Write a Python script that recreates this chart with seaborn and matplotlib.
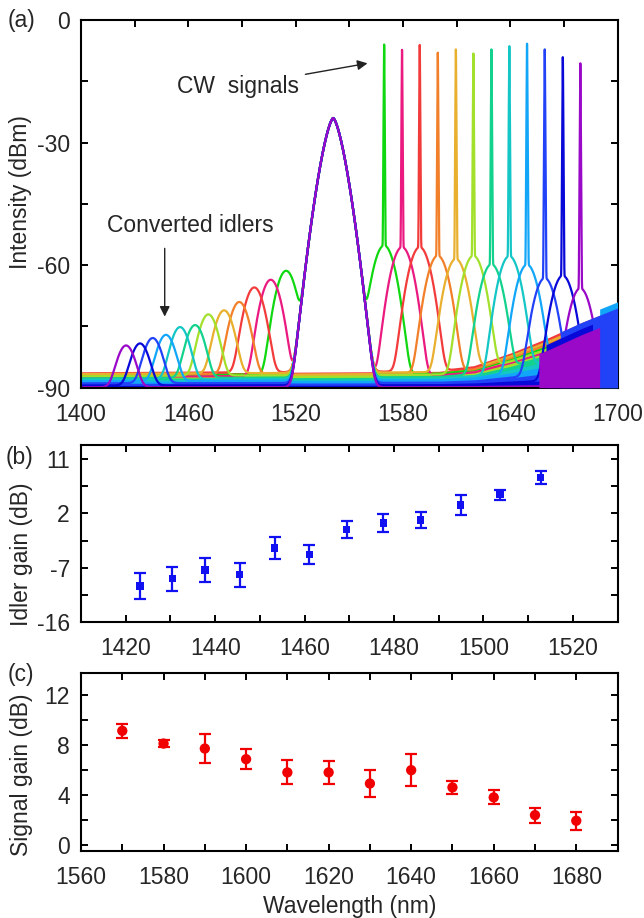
import numpy as np
import pandas as pd
import matplotlib
matplotlib.use("Agg")
import matplotlib.pyplot as plt
import seaborn as sns

# ---- (a) spectra, one trace per CW signal ----
signal_nm = [1569.5, 1579.5, 1589.4, 1599.5, 1609.6, 1619.4,
             1629.5, 1639.5, 1649.4, 1659.3, 1669.4, 1679.2]
signal_peak_dbm = [-6.0, -7.3, -6.1, -8.0, -7.2, -8.2,
                   -7.2, -6.4, -5.8, -7.2, -9.1, -10.6]
pedestal_dbm = [-55.2, -55.6, -55.6, -57.7, -58.5, -57.7,
                -59.8, -57.8, -59.9, -63.2, -62.6, -65.7]
idler_nm = [1514.7, 1506.1, 1496.9, 1488.5, 1480.0, 1471.2,
            1463.8, 1455.4, 1447.5, 1440.1, 1433.0, 1425.2]
idler_peak_dbm = [-61.4, -63.6, -65.5, -69.1, -71.2, -72.2,
                  -74.9, -75.4, -77.4, -78.2, -79.6, -80.1]
trace_colors = ["#10d810", "#ea1a80", "#f23c3c", "#f2802a", "#e8b02e", "#a2e02c",
                "#12d28e", "#14c6c6", "#12a6f8", "#2242f8", "#0808d8", "#9a08c8"]
pump_nm = 1541.0
pump_peak_dbm = -24.0

# noise floor of the OSA: top of the noisy band, and where each trace sits in it
floor_nm = [1400, 1600, 1620, 1640, 1660, 1680, 1700]
floor_top_dbm = [-86.5, -86.0, -85.0, -82.0, -78.5, -74.5, -71.0]
floor_depth = [0.15, 0.25, 0.0, 0.1, 0.05, 0.2, 0.35, 0.45, 0.55, 0.7, 0.85, 0.97]
# dense noise blocks of the long-wavelength traces
block_start_nm = [0, 0, 0, 0, 0, 0, 0, 0, 1690, 1668, 1660, 1656]
block_end_nm = [0, 0, 0, 0, 0, 0, 0, 0, 1700, 1700, 1686, 1690]
block_offset_db = [0, 0, 0, 0, 0, 0, 0, 0, 2.0, 0.5, -1.0, -2.5]

# ---- (b) idler gain ----
idler_gain_nm = [1423.2, 1430.4, 1437.7, 1445.5, 1453.3, 1461.1,
                 1469.4, 1477.6, 1486.0, 1494.9, 1503.7, 1512.8]
idler_gain_db = [-10.0, -8.8, -7.4, -8.15, -3.7, -4.8, -0.7, 0.4, 0.9, 3.4, 5.1, 8.0]
idler_gain_err = [2.2, 2.0, 2.0, 2.0, 1.8, 1.6, 1.4, 1.5, 1.3, 1.65, 0.8, 1.05]

# ---- (c) signal gain ----
signal_gain_nm = [1570, 1580, 1590, 1600, 1610, 1620, 1630, 1640, 1650, 1660, 1670, 1680]
signal_gain_db = [9.12, 8.1, 7.7, 6.85, 5.79, 5.79, 4.9, 5.97, 4.59, 3.79, 2.37, 1.92]
signal_gain_err = [0.56, 0.28, 1.15, 0.78, 0.96, 0.95, 1.06, 1.3, 0.55, 0.56, 0.6, 0.72]

sns.set_theme(style="ticks")
plt.rcParams['font.family'] = ['Liberation Sans', 'DejaVu Sans']
plt.rcParams['axes.unicode_minus'] = False
FS = 16.5

wl = np.linspace(1400, 1700, 15001)
band_top = np.interp(wl, floor_nm, floor_top_dbm)


def db2lin(x):
    return 10 ** (np.asarray(x) / 10)


rows = []
floors = []
for i in range(len(signal_nm)):
    floor = band_top - floor_depth[i] * (band_top + 90)
    floors.append(floor)
    pump = pump_peak_dbm - 0.6 * np.abs(wl - pump_nm) ** 1.5
    ped = pedestal_dbm[i] - 4.343 * (wl - signal_nm[i]) ** 2 / (2 * 3.7 ** 2)
    cw = signal_peak_dbm[i] - 20 * np.log10(np.cosh(np.clip((wl - signal_nm[i]) / 0.12, -300, 300)))
    idl = idler_peak_dbm[i] - 4.343 * (wl - idler_nm[i]) ** 2 / (2 * 3.6 ** 2)
    total = db2lin(pump) + db2lin(ped) + db2lin(cw) + db2lin(idl) + db2lin(floor)
    rows.append(pd.DataFrame({"wl": wl, "db": 10 * np.log10(total), "trace": i}))
spec = pd.concat(rows, ignore_index=True)

fig = plt.figure(figsize=(6.44, 9.18), dpi=100)
ax_a = fig.add_axes([0.1258, 0.5777, 0.8331, 0.4005])
ax_b = fig.add_axes([0.1258, 0.3224, 0.8331, 0.1932])
ax_c = fig.add_axes([0.1258, 0.0730, 0.8331, 0.1939])

# (a)
for i in range(len(signal_nm)):
    ax_a.fill_between(wl, -90, floors[i], color=trace_colors[i], lw=0, zorder=1)
sns.lineplot(data=spec, x="wl", y="db", hue="trace", palette=trace_colors,
             estimator=None, legend=False, lw=1.6, ax=ax_a, zorder=2)
for i in range(len(signal_nm)):
    if block_end_nm[i] > block_start_nm[i]:
        m = (wl >= block_start_nm[i]) & (wl <= block_end_nm[i])
        ax_a.fill_between(wl[m], -90, band_top[m] + block_offset_db[i],
                          color=trace_colors[i], lw=0, zorder=3)
ax_a.set_xlim(1400, 1700)
ax_a.set_ylim(-90, 0)
ax_a.set_xticks(range(1400, 1701, 60))
ax_a.set_xticks(range(1430, 1700, 60), minor=True)
ax_a.set_yticks([-90, -60, -30, 0])
ax_a.set_yticks([-75, -45, -15], minor=True)
ax_a.set_xlabel("")
ax_a.set_ylabel("Intensity (dBm)", fontsize=FS)
ax_a.annotate("CW  signals", xy=(1560.2, -10.6), xytext=(1488, -16.2),
              ha="center", va="center", fontsize=FS,
              arrowprops=dict(arrowstyle="-|>", color="#222222", lw=1, mutation_scale=15,
                              shrinkA=2, shrinkB=0))
ax_a.text(1461, -50.2, "Converted idlers", ha="center", va="center", fontsize=FS)
ax_a.annotate("", xy=(1446.8, -72.6), xytext=(1446.8, -55.9),
              arrowprops=dict(arrowstyle="-|>", color="#222222", lw=1, mutation_scale=15,
                              shrinkA=0, shrinkB=0))

# (b)
ax_b.errorbar(idler_gain_nm, idler_gain_db, yerr=idler_gain_err, fmt="none",
              ecolor="#1010f0", elinewidth=1.6, capsize=4, capthick=1.6, zorder=2)
sns.scatterplot(x=idler_gain_nm, y=idler_gain_db, marker="s", color="#1010f0",
                s=28, edgecolor="none", ax=ax_b, zorder=3)
ax_b.set_xlim(1410, 1530)
ax_b.set_ylim(-16, 13.4)
ax_b.set_xticks(range(1420, 1521, 20))
ax_b.set_xticks(range(1430, 1530, 20), minor=True)
ax_b.set_yticks([-16, -7, 2, 11])
ax_b.set_yticks([-11.5, -2.5, 6.5], minor=True)
ax_b.set_ylabel("Idler gain (dB)", fontsize=FS)

# (c)
ax_c.errorbar(signal_gain_nm, signal_gain_db, yerr=signal_gain_err, fmt="none",
              ecolor="#f00000", elinewidth=1.6, capsize=4.5, capthick=1.6, zorder=2)
sns.scatterplot(x=signal_gain_nm, y=signal_gain_db, marker="o", color="#f00000",
                s=55, edgecolor="none", ax=ax_c, zorder=3)
ax_c.set_xlim(1560, 1690)
ax_c.set_ylim(-0.5, 13.75)
ax_c.set_xticks(range(1560, 1681, 20))
ax_c.set_xticks(range(1570, 1690, 20), minor=True)
ax_c.set_yticks([0, 4, 8, 12])
ax_c.set_yticks([2, 6, 10], minor=True)
ax_c.set_ylabel("Signal gain (dB)", fontsize=FS)
ax_c.set_xlabel("Wavelength (nm)", fontsize=FS)

for ax in (ax_a, ax_b, ax_c):
    for s in ax.spines.values():
        s.set_linewidth(1.5)
        s.set_color("black")
        s.set_visible(True)
    ax.tick_params(which="both", direction="in", top=True, right=True,
                   length=5, width=1.4, color="black")
    ax.tick_params(axis="x", which="major", labelsize=FS, pad=11)
    ax.tick_params(axis="y", which="major", labelsize=FS, pad=8)
    ax.set_facecolor("white")
ax_b.set_xlabel("")
ax_a.yaxis.set_label_coords(-0.092, 0.533)
ax_b.yaxis.set_label_coords(-0.090, 0.383)
ax_c.yaxis.set_label_coords(-0.090, 0.43)

fig.text(0.012, 0.978, "(a)", fontsize=FS, va="center")
fig.text(0.008, 0.502, "(b)", fontsize=FS, va="center")
fig.text(0.012, 0.265, "(c)", fontsize=FS, va="center")

fig.savefig("out.png", dpi=100, facecolor="white")
